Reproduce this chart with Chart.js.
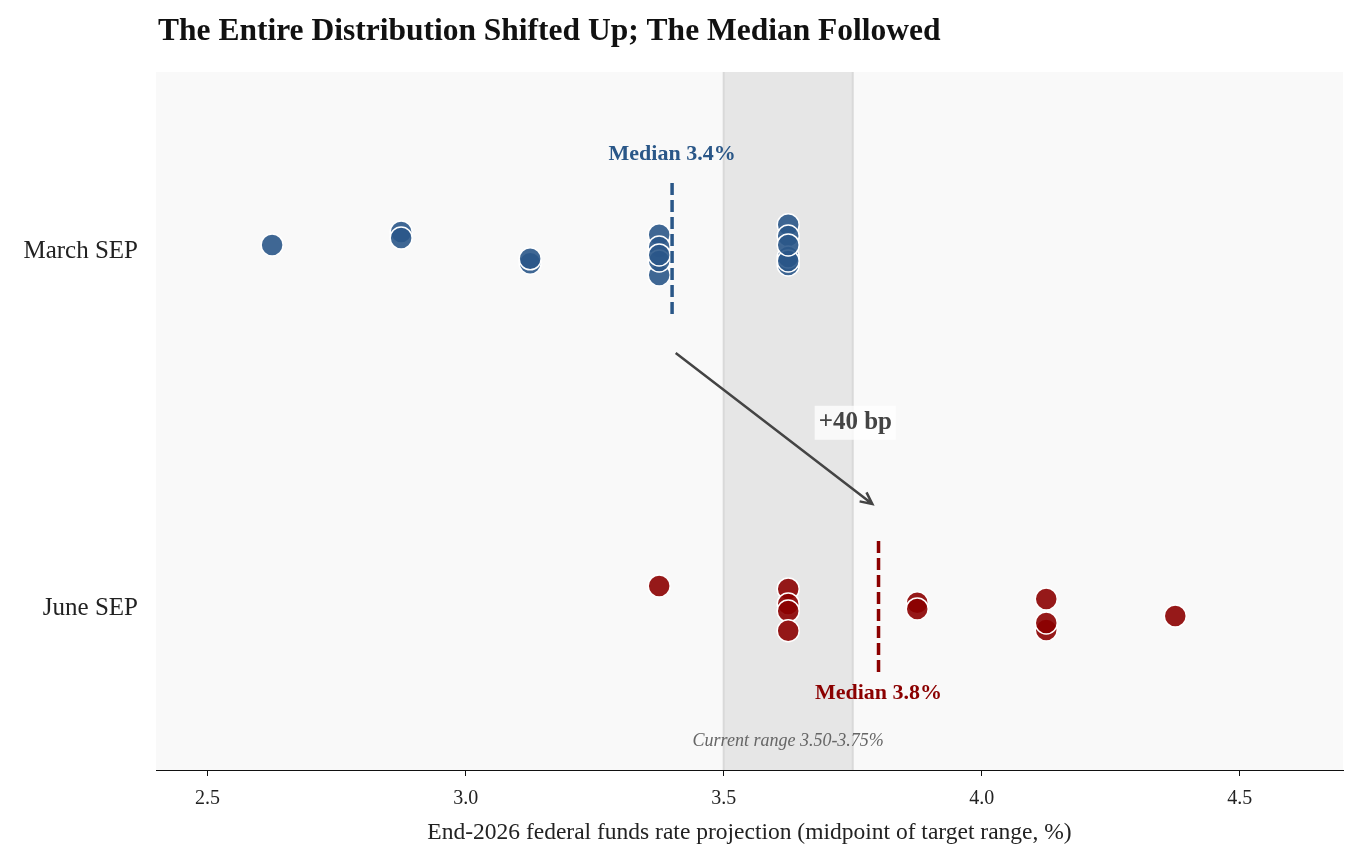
<!DOCTYPE html>
<html>
<head>
<meta charset="utf-8">
<script src="https://cdn.jsdelivr.net/npm/chart.js@4.4.1/dist/chart.umd.min.js"></script>
<style>
  html, body { margin: 0; padding: 0; background: #ffffff; }
  #wrap { width: 1363px; height: 865px; }
</style>
</head>
<body>
<div id="wrap"><canvas id="dotChart" width="1363" height="865"></canvas></div>
<script>
// rows on the y axis (March on top)
const rowLabels = ["June SEP", "March SEP"];
const xTicks = [2.5, 3.0, 3.5, 4.0, 4.5];

// individual projections (midpoints) and the small vertical jitter used in the dot plot
const marchRates  = [2.625, 2.875, 2.875, 3.125, 3.125, 3.375, 3.375, 3.375, 3.375, 3.375, 3.625, 3.625, 3.625, 3.625, 3.625, 3.625];
const marchJitter = [0.017, 0.053, 0.036, -0.034, -0.022, -0.067, 0.045, 0.011, -0.028, -0.011, 0.073, -0.039, 0.042, -0.017, -0.028, 0.017];
const juneRates   = [3.375, 3.625, 3.625, 3.625, 3.625, 3.875, 3.875, 4.125, 4.125, 4.125, 4.375];
const juneJitter  = [0.064, 0.056, 0.014, -0.006, -0.061, 0.017, 0.0, 0.028, -0.059, -0.039, -0.020];

const marchMedian = 3.4;
const juneMedian = 3.8;
const currentRange = [3.5, 3.75];

const FONT = "'Liberation Serif', 'DejaVu Serif', serif";
const BLUE = "#2a5788";
const RED = "#8b0000";

const toPoints = (rates, jitter, row) => rates.map((r, i) => ({ x: r, y: row + jitter[i] }));

const backdrop = {
    id: "backdrop",
    beforeDraw(chart) {
        const { ctx, chartArea: a, scales: { x } } = chart;
        ctx.save();
        ctx.fillStyle = "#f9f9f9";
        ctx.fillRect(a.left, a.top, a.right - a.left, a.bottom - a.top);
        // current target range band
        const x0 = x.getPixelForValue(currentRange[0]);
        const x1 = x.getPixelForValue(currentRange[1]);
        ctx.fillStyle = "#e6e6e6";
        ctx.fillRect(x0, a.top, x1 - x0, a.bottom - a.top);
        ctx.strokeStyle = "#d9d9d9";
        ctx.lineWidth = 2;
        ctx.beginPath();
        ctx.moveTo(x0, a.top); ctx.lineTo(x0, a.bottom);
        ctx.moveTo(x1, a.top); ctx.lineTo(x1, a.bottom);
        ctx.stroke();
        // title
        ctx.fillStyle = "#111";
        ctx.font = "bold 31.5px " + FONT;
        ctx.textAlign = "left";
        ctx.textBaseline = "middle";
        ctx.fillText("The Entire Distribution Shifted Up; The Median Followed", 158, 32);
        ctx.restore();
    }
};

const notes = {
    id: "notes",
    afterDatasetsDraw(chart) {
        const { ctx, scales: { x, y } } = chart;
        ctx.save();

        // current range caption
        ctx.font = "italic 18px " + FONT;
        ctx.fillStyle = "#666";
        ctx.textAlign = "center";
        ctx.textBaseline = "middle";
        ctx.fillText("Current range 3.50-3.75%", x.getPixelForValue(3.625), y.getPixelForValue(-0.369));

        // median lines
        const medianLine = (val, row, color) => {
            const px = x.getPixelForValue(val);
            ctx.strokeStyle = color;
            ctx.lineWidth = 3.5;
            ctx.setLineDash([12, 5]);
            ctx.beginPath();
            ctx.moveTo(px, y.getPixelForValue(row + 0.19));
            ctx.lineTo(px, y.getPixelForValue(row - 0.19));
            ctx.stroke();
            ctx.setLineDash([]);
        };
        medianLine(marchMedian, 1, BLUE);
        medianLine(juneMedian, 0, RED);

        ctx.font = "bold 22px " + FONT;
        ctx.fillStyle = BLUE;
        ctx.fillText("Median " + marchMedian.toFixed(1) + "%", x.getPixelForValue(marchMedian), y.getPixelForValue(1.27));
        ctx.fillStyle = RED;
        ctx.fillText("Median " + juneMedian.toFixed(1) + "%", x.getPixelForValue(juneMedian), y.getPixelForValue(-0.237));

        // arrow between medians
        const sx = x.getPixelForValue(3.407), sy = y.getPixelForValue(0.715);
        const ex = x.getPixelForValue(3.788), ey = y.getPixelForValue(0.293);
        ctx.strokeStyle = "#444";
        ctx.lineWidth = 2.5;
        ctx.beginPath();
        ctx.moveTo(sx, sy);
        ctx.lineTo(ex, ey);
        const ang = Math.atan2(ey - sy, ex - sx);
        const head = 13;
        ctx.moveTo(ex - head * Math.cos(ang - 0.45), ey - head * Math.sin(ang - 0.45));
        ctx.lineTo(ex, ey);
        ctx.lineTo(ex - head * Math.cos(ang + 0.45), ey - head * Math.sin(ang + 0.45));
        ctx.stroke();

        // shift label
        const lx = x.getPixelForValue(3.755), ly = y.getPixelForValue(0.52);
        const shift = "+" + Math.round((juneMedian - marchMedian) * 100) + " bp";
        ctx.font = "bold 25px " + FONT;
        const w = ctx.measureText(shift).width;
        ctx.fillStyle = "rgba(255,255,255,0.75)";
        ctx.fillRect(lx - w / 2 - 4, ly - 17, w + 8, 34);
        ctx.fillStyle = "#444";
        ctx.fillText(shift, lx, ly);

        ctx.restore();
    }
};

const ctx = document.getElementById("dotChart").getContext("2d");
new Chart(ctx, {
    type: "scatter",
    data: {
        datasets: [
            {
                label: "March SEP",
                data: toPoints(marchRates, marchJitter, 1),
                backgroundColor: "rgba(42,87,136,0.9)",
                borderColor: "#ffffff",
                borderWidth: 1.5,
                pointRadius: 11
            },
            {
                label: "June SEP",
                data: toPoints(juneRates, juneJitter, 0),
                backgroundColor: "rgba(139,0,0,0.9)",
                borderColor: "#ffffff",
                borderWidth: 1.5,
                pointRadius: 11
            }
        ]
    },
    options: {
        responsive: false,
        animation: false,
        layout: { padding: { top: 72, right: 20, left: 0, bottom: 0 } },
        plugins: {
            legend: { display: false },
            tooltip: { enabled: false }
        },
        scales: {
            x: {
                type: "linear",
                min: 2.4,
                max: 4.7,
                afterBuildTicks: (s) => { s.ticks = xTicks.map(v => ({ value: v })); },
                afterFit: (s) => { s.height = 95; },
                ticks: {
                    color: "#222",
                    font: { family: FONT, size: 20 },
                    padding: 11,
                    callback: (v) => Number(v).toFixed(1)
                },
                grid: { drawOnChartArea: false, drawTicks: true, tickLength: 6, color: "#111" },
                border: { display: true, color: "#111", width: 1 },
                title: {
                    display: true,
                    text: "End-2026 federal funds rate projection (midpoint of target range, %)",
                    color: "#222",
                    font: { family: FONT, size: 23.5 },
                    padding: { top: 0, bottom: 18 }
                }
            },
            y: {
                type: "linear",
                min: -0.45,
                max: 1.5,
                afterBuildTicks: (s) => { s.ticks = rowLabels.map((_, i) => ({ value: i })); },
                afterFit: (s) => { s.width = 156; },
                ticks: {
                    color: "#222",
                    font: { family: FONT, size: 25 },
                    padding: 18,
                    callback: (v) => rowLabels[v]
                },
                grid: { display: false, drawTicks: false },
                border: { display: false }
            }
        }
    },
    plugins: [backdrop, notes]
});
</script>
</body>
</html>
